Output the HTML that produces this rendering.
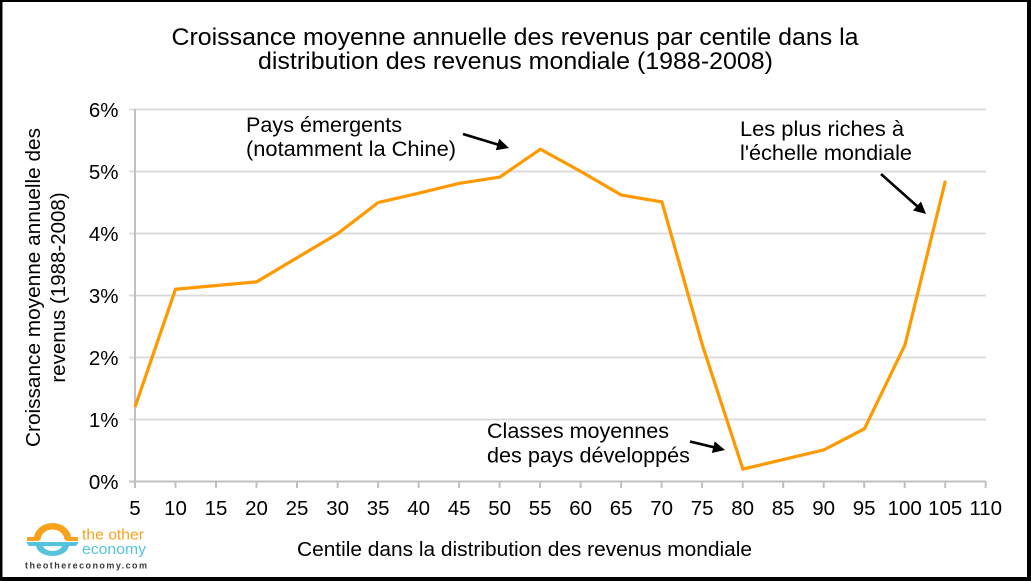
<!DOCTYPE html>
<html>
<head>
<meta charset="utf-8">
<style>
html,body{margin:0;padding:0;background:#fff;}
svg{display:block;}
text{font-family:"Liberation Sans",Arial,sans-serif;fill:#000;}
</style>
</head>
<body>
<svg width="1031" height="581" viewBox="0 0 1031 581" xmlns="http://www.w3.org/2000/svg">
<rect x="0" y="0" width="1031" height="581" fill="#fff"/>
<!-- border -->
<rect x="0" y="0" width="1031" height="2" fill="#000"/>
<rect x="0" y="0" width="2.5" height="581" fill="#000"/>
<rect x="1027" y="0" width="4" height="581" fill="#000"/>
<rect x="0" y="577" width="1031" height="4" fill="#000"/>

<!-- title -->
<text x="515" y="45" font-size="24.5" text-anchor="middle" textLength="687" lengthAdjust="spacingAndGlyphs">Croissance moyenne annuelle des revenus par centile dans la</text>
<text x="515.5" y="69" font-size="24.5" text-anchor="middle" textLength="515" lengthAdjust="spacingAndGlyphs">distribution des revenus mondiale (1988-2008)</text>

<!-- gridlines -->
<g stroke="#d9d9d9" stroke-width="1.8">
<line x1="129" y1="109.5" x2="986" y2="109.5"/>
<line x1="129" y1="171.5" x2="986" y2="171.5"/>
<line x1="129" y1="233.5" x2="986" y2="233.5"/>
<line x1="129" y1="295.5" x2="986" y2="295.5"/>
<line x1="129" y1="357.5" x2="986" y2="357.5"/>
<line x1="129" y1="419.5" x2="986" y2="419.5"/>
</g>
<!-- axes -->
<g stroke="#bfbfbf" stroke-width="2">
<line x1="135" y1="109" x2="135" y2="482"/>
<line x1="129" y1="481.5" x2="986" y2="481.5"/>
<line x1="135" y1="481" x2="135" y2="488"/>
<line x1="175.5" y1="481" x2="175.5" y2="488"/>
<line x1="216" y1="481" x2="216" y2="488"/>
<line x1="256.5" y1="481" x2="256.5" y2="488"/>
<line x1="297" y1="481" x2="297" y2="488"/>
<line x1="337.6" y1="481" x2="337.6" y2="488"/>
<line x1="378.1" y1="481" x2="378.1" y2="488"/>
<line x1="418.6" y1="481" x2="418.6" y2="488"/>
<line x1="459.1" y1="481" x2="459.1" y2="488"/>
<line x1="499.6" y1="481" x2="499.6" y2="488"/>
<line x1="540.1" y1="481" x2="540.1" y2="488"/>
<line x1="580.6" y1="481" x2="580.6" y2="488"/>
<line x1="621.1" y1="481" x2="621.1" y2="488"/>
<line x1="661.6" y1="481" x2="661.6" y2="488"/>
<line x1="702.1" y1="481" x2="702.1" y2="488"/>
<line x1="742.7" y1="481" x2="742.7" y2="488"/>
<line x1="783.2" y1="481" x2="783.2" y2="488"/>
<line x1="823.7" y1="481" x2="823.7" y2="488"/>
<line x1="864.2" y1="481" x2="864.2" y2="488"/>
<line x1="904.7" y1="481" x2="904.7" y2="488"/>
<line x1="945.2" y1="481" x2="945.2" y2="488"/>
<line x1="985.7" y1="481" x2="985.7" y2="488"/>
</g>

<!-- y tick labels -->
<g font-size="20.5" text-anchor="end">
<text x="118.5" y="117">6%</text>
<text x="118.5" y="179">5%</text>
<text x="118.5" y="241">4%</text>
<text x="118.5" y="303">3%</text>
<text x="118.5" y="365">2%</text>
<text x="118.5" y="427">1%</text>
<text x="118.5" y="489">0%</text>
</g>
<!-- x tick labels -->
<g font-size="20.5" text-anchor="middle">
<text x="135" y="515">5</text>
<text x="175.5" y="515">10</text>
<text x="216" y="515">15</text>
<text x="256.5" y="515">20</text>
<text x="297" y="515">25</text>
<text x="337.6" y="515">30</text>
<text x="378.1" y="515">35</text>
<text x="418.6" y="515">40</text>
<text x="459.1" y="515">45</text>
<text x="499.6" y="515">50</text>
<text x="540.1" y="515">55</text>
<text x="580.6" y="515">60</text>
<text x="621.1" y="515">65</text>
<text x="661.6" y="515">70</text>
<text x="702.1" y="515">75</text>
<text x="742.7" y="515">80</text>
<text x="783.2" y="515">85</text>
<text x="823.7" y="515">90</text>
<text x="864.2" y="515">95</text>
<text x="904.7" y="515">100</text>
<text x="945.2" y="515">105</text>
<text x="985.7" y="515">110</text>
</g>

<!-- axis titles -->
<text x="524.5" y="556" font-size="20.5" text-anchor="middle" textLength="455" lengthAdjust="spacingAndGlyphs">Centile dans la distribution des revenus mondiale</text>
<g transform="translate(40,287.5) rotate(-90)">
<text x="0" y="0" font-size="20.5" text-anchor="middle" textLength="319" lengthAdjust="spacingAndGlyphs">Croissance moyenne annuelle des</text>
</g>
<g transform="translate(65,287.5) rotate(-90)">
<text x="0" y="0" font-size="20.5" text-anchor="middle">revenus (1988-2008)</text>
</g>

<!-- data line -->
<polyline fill="none" stroke="#ff9900" stroke-width="3.2" stroke-linejoin="miter" points="135,407.1 175.5,289.3 256.5,281.9 337.8,233.5 378.3,202.5 418.8,193.2 459.3,183.3 499.8,177.1 540.4,149.2 580.9,171.5 621.4,195.1 661.9,201.9 702.4,345.1 742.9,469.1 823.9,449.9 864.4,428.8 904.9,345.1 945.4,180.8"/>

<!-- annotations -->
<g font-size="21.5">
<text x="246" y="132" textLength="156" lengthAdjust="spacingAndGlyphs">Pays émergents</text>
<text x="246" y="156" textLength="210" lengthAdjust="spacingAndGlyphs">(notamment la Chine)</text>
<text x="740" y="136" textLength="164" lengthAdjust="spacingAndGlyphs">Les plus riches à</text>
<text x="740" y="160" textLength="172" lengthAdjust="spacingAndGlyphs">l'échelle mondiale</text>
<text x="487" y="438" textLength="182" lengthAdjust="spacingAndGlyphs">Classes moyennes</text>
<text x="487" y="462.5" textLength="203" lengthAdjust="spacingAndGlyphs">des pays développés</text>
</g>

<!-- arrows -->
<g stroke="#000" stroke-width="2.6" fill="none">
<line x1="463" y1="134" x2="498" y2="144.6"/>
<line x1="881" y1="174" x2="917.5" y2="206.5"/>
<line x1="690" y1="441.5" x2="713.5" y2="447.2"/>
</g>
<g fill="#000">
<polygon points="509,148 495.8,150.2 499.2,138.8"/>
<polygon points="926,214 913,210.5 921,201.5"/>
<polygon points="725,450 711.9,453 714.7,441.4"/>
</g>

<!-- logo -->
<g>
<!-- orange arch -->
<path d="M33.5,540 A19,17 0 0 1 71.5,540 L64.5,540 A12,10.5 0 0 0 40.5,540 Z" fill="#f7a21b"/>
<rect x="27" y="537" width="12" height="4" fill="#f7a21b"/>
<rect x="66" y="537" width="12" height="4" fill="#f7a21b"/>
<!-- blue band and bowl -->
<path d="M26,542 L79,542 L76,546 L29,546 Z" fill="#55c3dc"/>
<path d="M36,545 A16.5,11 0 0 0 69,545 L62,545 A9.5,6 0 0 1 43,545 Z" fill="#55c3dc"/>
<text x="82" y="539.5" font-size="15" style="fill:#f7a21b" textLength="62" lengthAdjust="spacingAndGlyphs">the other</text>
<text x="82" y="554" font-size="15" style="fill:#55c3dc" textLength="64" lengthAdjust="spacingAndGlyphs">economy</text>
<text x="25" y="568.5" font-size="9" font-weight="bold" style="fill:#3a3a3a" textLength="122" lengthAdjust="spacing">theothereconomy.com</text>
</g>
</svg>
</body>
</html>
